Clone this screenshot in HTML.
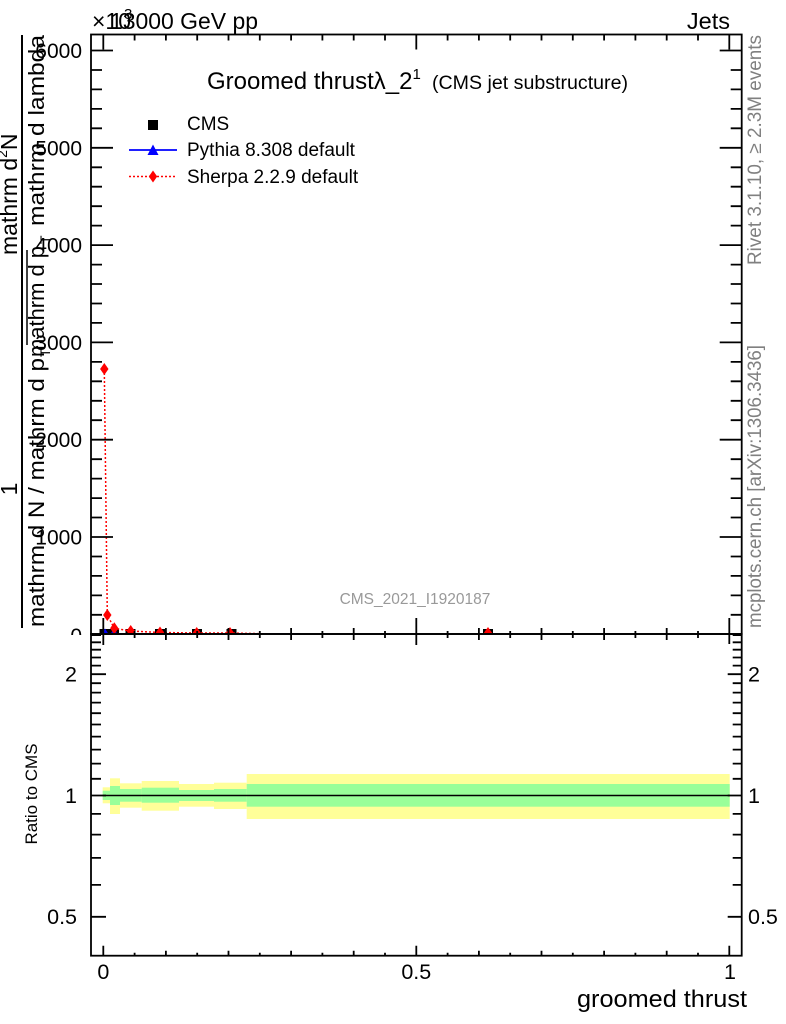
<!DOCTYPE html>
<html><head><meta charset="utf-8"><style>
html,body{margin:0;padding:0;background:#fff;}
svg{display:block;}
text{font-family:"Liberation Sans",Arial,sans-serif;}
</style></head><body>
<svg width="786" height="1024" viewBox="0 0 786 1024" xmlns="http://www.w3.org/2000/svg">
<defs><clipPath id="mc"><rect x="91" y="34.5" width="650.7" height="599.5"/></clipPath></defs>
<rect x="0" y="0" width="786" height="1024" fill="#fff"/>

<!-- top labels -->
<text x="92" y="29" font-size="23">×10</text>
<text x="124" y="19" font-size="15">3</text>
<text x="110" y="29" font-size="23" textLength="148" lengthAdjust="spacingAndGlyphs">13000 GeV pp</text>
<text x="730" y="29" font-size="23.5" text-anchor="end">Jets</text>

<!-- title -->
<text x="207" y="89" font-size="24">Groomed thrustλ_2<tspan font-size="15" dy="-10">1</tspan></text>
<text x="432" y="89" font-size="19" textLength="196" lengthAdjust="spacingAndGlyphs">(CMS jet substructure)</text>

<!-- legend -->
<rect x="148" y="120" width="10" height="10" fill="#000"/>
<text x="187" y="130" font-size="19">CMS</text>
<line x1="129" y1="150" x2="177" y2="150" stroke="#0000ff" stroke-width="1.8"/>
<polygon points="153,144.5 158.5,155 147.5,155" fill="#0000ff"/>
<text x="187" y="156" font-size="19">Pythia 8.308 default</text>
<line x1="129" y1="176.5" x2="177" y2="176.5" stroke="#ff0000" stroke-width="1.5" stroke-dasharray="2,2"/>
<polygon points="153,170.5 157.2,176.5 153,182.5 148.8,176.5" fill="#ff0000"/>
<text x="187" y="183" font-size="19">Sherpa 2.2.9 default</text>

<!-- watermark -->
<text x="415" y="604" font-size="15.5" fill="#999" text-anchor="middle">CMS_2021_I1920187</text>

<!-- main data -->
<g clip-path="url(#mc)">
<g fill="#000">
<rect x="99.5" y="629" width="10" height="10"/>
<rect x="109" y="629" width="10" height="10"/>
<rect x="125.5" y="629" width="10" height="10"/>
<rect x="155" y="629" width="10" height="10"/>
<rect x="192" y="629" width="10" height="10"/>
<rect x="226.5" y="629" width="10" height="10"/>
<rect x="483" y="629" width="10" height="10"/>
</g>
<line x1="103" y1="634" x2="300" y2="634" stroke="#0000ff" stroke-width="1.5"/>
<polygon points="105,628.5 108.5,634 101.5,634" fill="#0000ff"/>
<polygon points="114,628.5 117.5,634 110.5,634" fill="#0000ff"/>
<polyline points="104.3,369 107.3,615 114.3,628.3 130.7,631 160,632.5 196.7,633 230,633 275,634" fill="none" stroke="#ff0000" stroke-width="1.5" stroke-dasharray="2,2"/>
<g fill="#ff0000">
<polygon points="104.3,363 108.5,369 104.3,375 100.1,369"/>
<polygon points="107.3,609 111.5,615 107.3,621 103.1,615"/>
<polygon points="114.3,622.3 118.5,628.3 114.3,634.3 110.1,628.3"/>
<polygon points="130.7,625 134.9,631 130.7,637 126.5,631"/>
<polygon points="160,626.5 164.2,632.5 160,638.5 155.8,632.5"/>
<polygon points="196.7,627 200.9,633 196.7,639 192.5,633"/>
<polygon points="230,627 234.2,633 230,639 225.8,633"/>
<polygon points="488,627 492.2,633 488,639 483.8,633"/>
</g>
</g>

<!-- main y tick labels -->
<g font-size="21" text-anchor="end">
<text x="82" y="58">6000</text>
<text x="82" y="155.3">5000</text>
<text x="82" y="252.6">4000</text>
<text x="82" y="349.9">3000</text>
<text x="82" y="447.2">2000</text>
<text x="82" y="544.5">1000</text>
<text x="82" y="643">0</text>
</g>

<!-- y title -->
<g font-size="22" fill="#000">
<text transform="translate(17,255) rotate(-90)" font-size="23">mathrm d<tspan font-size="14" dy="-10">2</tspan><tspan font-size="23" dy="10">N</tspan></text>
<text transform="translate(17,489) rotate(-90)" font-size="23" text-anchor="middle">1</text>
<text transform="translate(44,627) rotate(-90)" textLength="269" lengthAdjust="spacingAndGlyphs">mathrm d N / mathrm d p</text>
<text transform="translate(50,357) rotate(-90)" font-size="14">T</text>
<text transform="translate(44,357) rotate(-90)" textLength="111" lengthAdjust="spacingAndGlyphs">mathrm d p</text>
<text transform="translate(50,244) rotate(-90)" font-size="14">T</text>
<text transform="translate(44,226) rotate(-90)" textLength="191" lengthAdjust="spacingAndGlyphs">mathrm d lambda</text>
</g>
<line x1="22" y1="35" x2="22" y2="628" stroke="#000" stroke-width="2"/>
<line x1="27" y1="250" x2="27" y2="345" stroke="#000" stroke-width="1.5"/>

<!-- main frame and ticks -->
<g stroke="#000" stroke-width="1.8" fill="none">
<path d="M91 634.3h22M91 537h22M91 439.7h22M91 342.4h22M91 245.1h22M91 147.8h22M91 50.5h22
M741.7 634.3h-22M741.7 537h-22M741.7 439.7h-22M741.7 342.4h-22M741.7 245.1h-22M741.7 147.8h-22M741.7 50.5h-22"/>
<path d="M91 614.8h11M91 595.4h11M91 575.9h11M91 556.5h11M91 517.5h11M91 498.1h11M91 478.6h11M91 459.2h11M91 420.2h11M91 400.8h11M91 381.3h11M91 361.9h11M91 322.9h11M91 303.5h11M91 284h11M91 264.6h11M91 225.6h11M91 206.2h11M91 186.7h11M91 167.3h11M91 128.3h11M91 108.9h11M91 89.4h11M91 70h11
M741.7 614.8h-11M741.7 595.4h-11M741.7 575.9h-11M741.7 556.5h-11M741.7 517.5h-11M741.7 498.1h-11M741.7 478.6h-11M741.7 459.2h-11M741.7 420.2h-11M741.7 400.8h-11M741.7 381.3h-11M741.7 361.9h-11M741.7 322.9h-11M741.7 303.5h-11M741.7 284h-11M741.7 264.6h-11M741.7 225.6h-11M741.7 206.2h-11M741.7 186.7h-11M741.7 167.3h-11M741.7 128.3h-11M741.7 108.9h-11M741.7 89.4h-11M741.7 70h-11"/>
<!-- top x ticks -->
<path d="M103.3 34.5v15M416.3 34.5v15M729.3 34.5v15
M134.6 34.5v6M165.9 34.5v6M197.2 34.5v6M228.5 34.5v6M259.8 34.5v6M291.1 34.5v6M322.4 34.5v6M353.7 34.5v6M385 34.5v6M447.6 34.5v6M478.9 34.5v6M510.2 34.5v6M541.5 34.5v6M572.8 34.5v6M604.1 34.5v6M635.4 34.5v6M666.7 34.5v6M698 34.5v6"/>
<!-- bottom main x ticks (up) -->
<path d="M103.3 634v-16M416.3 634v-16M729.3 634v-16
M165.9 634v-6M228.5 634v-6M291.1 634v-6M353.7 634v-6M478.9 634v-6M541.5 634v-6M604.1 634v-6M666.7 634v-6
M134.6 634v-3M197.2 634v-3M259.8 634v-3M322.4 634v-3M385 634v-3M447.6 634v-3M510.2 634v-3M572.8 634v-3M635.4 634v-3M698 634v-3"/>
<rect x="91" y="34.5" width="650.7" height="599.5"/>
</g>

<!-- right gray text -->
<text transform="translate(761,265) rotate(-90)" font-size="19" fill="#808080" textLength="230" lengthAdjust="spacingAndGlyphs">Rivet 3.1.10, ≥ 2.3M events</text>
<text transform="translate(761,628) rotate(-90)" font-size="19" fill="#808080" textLength="283" lengthAdjust="spacingAndGlyphs">mcplots.cern.ch [arXiv:1306.3436]</text>

<!-- ratio panel -->
<rect x="0" y="635" width="745" height="389" fill="#fff"/>
<g>
<rect x="102.7" y="787.3" width="7.3" height="16" fill="#ffff99"/>
<rect x="110" y="778.3" width="10" height="35.7" fill="#ffff99"/>
<rect x="120" y="783.3" width="21.7" height="24.4" fill="#ffff99"/>
<rect x="141.7" y="781" width="37.3" height="29.7" fill="#ffff99"/>
<rect x="179" y="784" width="35" height="22.7" fill="#ffff99"/>
<rect x="214" y="782.7" width="32.7" height="26.3" fill="#ffff99"/>
<rect x="246.7" y="774" width="483" height="45" fill="#ffff99"/>
<rect x="102.7" y="790.7" width="7.3" height="9.3" fill="#99ff99"/>
<rect x="110" y="786" width="10" height="19" fill="#99ff99"/>
<rect x="120" y="789" width="21.7" height="12.7" fill="#99ff99"/>
<rect x="141.7" y="787.7" width="37.3" height="15" fill="#99ff99"/>
<rect x="179" y="790" width="35" height="11" fill="#99ff99"/>
<rect x="214" y="789" width="32.7" height="12.7" fill="#99ff99"/>
<rect x="246.7" y="784" width="483" height="22.7" fill="#99ff99"/>
<line x1="102.7" y1="795.5" x2="729.7" y2="795.5" stroke="#000" stroke-width="1.5"/>
</g>

<g stroke="#000" stroke-width="1.8" fill="none">
<!-- ratio y ticks -->
<path d="M91 916.8h15M91 795.5h15M91 674.2h15
M741.7 916.8h-14M741.7 795.5h-14M741.7 674.2h-14"/>
<path d="M91 884.9h10M91 857.9h10M91 834.6h10M91 813.9h10M91 778.8h10M91 763.6h10M91 749.6h10M91 736.6h10M91 724.5h10M91 713.2h10M91 702.6h10M91 692.6h10M91 683.2h10M91 665.6h10M91 657.5h10M91 649.7h10M91 642.3h10M91 635.1h10
M741.7 884.9h-9M741.7 857.9h-9M741.7 834.6h-9M741.7 813.9h-9M741.7 778.8h-9M741.7 763.6h-9M741.7 749.6h-9M741.7 736.6h-9M741.7 724.5h-9M741.7 713.2h-9M741.7 702.6h-9M741.7 692.6h-9M741.7 683.2h-9M741.7 665.6h-9M741.7 657.5h-9M741.7 649.7h-9M741.7 642.3h-9M741.7 635.1h-9"/>
<!-- ratio top x ticks (down) -->
<path d="M103.3 634v11M416.3 634v11M729.3 634v10
M165.9 634v6M228.5 634v6M291.1 634v6M353.7 634v6M478.9 634v6M541.5 634v6M604.1 634v6M666.7 634v6
M134.6 634v4M197.2 634v4M259.8 634v4M322.4 634v4M385 634v4M447.6 634v4M510.2 634v4M572.8 634v4M635.4 634v4M698 634v4"/>
<!-- ratio bottom x ticks (up) -->
<path d="M103.3 955.7v-10M416.3 955.7v-10M729.3 955.7v-10
M165.9 955.7v-5M228.5 955.7v-5M291.1 955.7v-5M353.7 955.7v-5M478.9 955.7v-5M541.5 955.7v-5M604.1 955.7v-5M666.7 955.7v-5
M134.6 955.7v-3M197.2 955.7v-3M259.8 955.7v-3M322.4 955.7v-3M385 955.7v-3M447.6 955.7v-3M510.2 955.7v-3M572.8 955.7v-3M635.4 955.7v-3M698 955.7v-3"/>
<rect x="91" y="634" width="650.7" height="321.7"/>
</g>

<!-- ratio labels -->
<g font-size="21.5">
<text x="77" y="681.5" text-anchor="end">2</text>
<text x="77" y="803" text-anchor="end">1</text>
<text x="77" y="924" text-anchor="end">0.5</text>
<text x="748" y="681.5">2</text>
<text x="748" y="803">1</text>
<text x="748" y="924">0.5</text>
<text x="103.3" y="979" text-anchor="middle">0</text>
<text x="416.3" y="979" text-anchor="middle">0.5</text>
<text x="730" y="979" text-anchor="middle">1</text>
</g>
<text transform="translate(37,794) rotate(-90)" font-size="17" text-anchor="middle">Ratio to CMS</text>
<text x="577" y="1007" font-size="24" textLength="170" lengthAdjust="spacingAndGlyphs">groomed thrust</text>
</svg>
</body></html>
